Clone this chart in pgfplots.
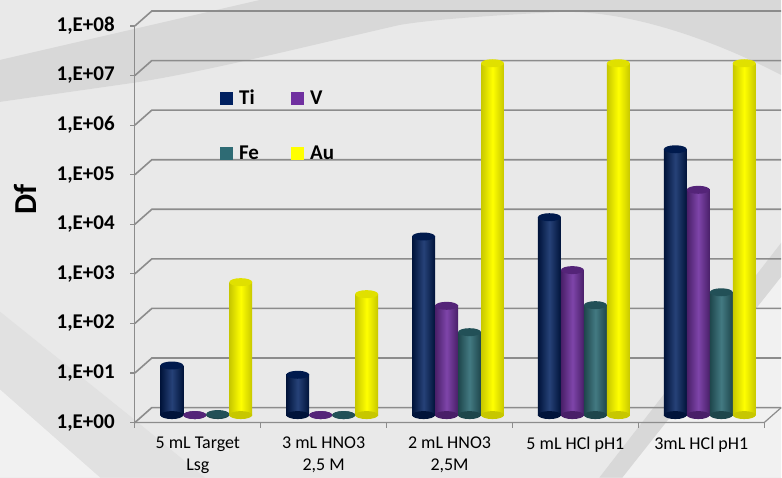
\documentclass[border=0pt]{standalone}
\usepackage{pgfplots}
\pgfplotsset{compat=1.18}
\usepackage{fontspec}
\setmainfont{Carlito}
\definecolor{tiC}{HTML}{002060}
\definecolor{vC}{HTML}{7030A0}
\definecolor{feC}{HTML}{2E6B74}
\definecolor{auC}{HTML}{FFFF00}
\colorlet{tiE}{tiC!60!black}\colorlet{tiM}{tiC!85!white}\colorlet{tiT}{tiC!80!black}
\colorlet{vE}{vC!65!black}\colorlet{vM}{vC!90!white}\colorlet{vT}{vC!75!black}
\colorlet{feE}{feC!65!black}\colorlet{feM}{feC!90!white}\colorlet{feT}{feC!75!black}
\colorlet{auE}{auC!78!black}\colorlet{auM}{auC}\colorlet{auT}{auC!88!black}
\definecolor{bgA}{HTML}{E9E9E9}
\definecolor{bgBand}{HTML}{D8D8D8}
\definecolor{bgBand2}{HTML}{E1E1E1}
\definecolor{bgLight}{HTML}{F1F1F1}
\definecolor{gridC}{HTML}{8C8C8C}
\pgfdeclareplotmark{cyltop}{%
  \pgfpathellipse{\pgfpointorigin}{\pgfqpoint{11.5pt}{0pt}}{\pgfqpoint{0pt}{4pt}}%
  \pgfusepathqfill}
% shift, colour prefix, x, y
\newcommand{\cyl}[4]{%
  \addplot[bar shift=#1, draw=none, fill=none, mark=cyltop,
    mark options={fill=#2E, draw=none, xshift=#1}] coordinates {(#3,1)};
  \addplot[bar shift=#1, draw=none, left color=#2E, right color=#2E, middle color=#2M,
    mark=cyltop, mark options={fill=#2T, draw=none, xshift=#1}] coordinates {(#3,#4)};}
\begin{document}
\begin{tikzpicture}
\begin{scope}[x=1pt,y=1pt]
\fill[bgA] (0,0) rectangle (782,478);
\useasboundingbox (0,0) rectangle (782,478);
\fill[bgBand] (0,418) -- (260,478) -- (782,478) -- (782,403)
  .. controls (700,445) and (620,468) .. (560,466)
  .. controls (480,462) and (430,458) .. (400,453)
  .. controls (300,430) and (200,405) .. (133,395)
  -- (0,376) -- cycle;
\fill[bgBand2] (0,166) -- (137,56) -- (205,0) -- (100,0) -- (0,88) -- cycle;
\fill[bgLight] (0,88) -- (100,0) -- (0,0) -- cycle;
\fill[bgLight] (782,201) -- (782,0) -- (623,0) -- cycle;
\fill[bgBand] (782,235) -- (782,201) -- (623,0) -- (600,0) -- cycle;
\end{scope}
\begin{axis}[
  at={(143.5pt,62.5pt)}, anchor=south west,
  scale only axis, width=630pt, height=397pt,
  ymode=log, ymin=1, ymax=1e8, log origin=0,
  xmin=-0.5, xmax=4.5,
  clip=false,
  axis line style={draw=none},
  tick style={draw=none},
  major tick length=0pt, minor tick length=0pt,
  xtick={0,1,2,3,4},
  xticklabels={{5 mL Target\\Lsg},{3 mL HNO3\\2,5 M},{2 mL HNO3\\2,5M},{5 mL HCl pH1},{3mL HCl pH1}},
  xticklabel style={align=center, font=\fontsize{18}{22}\selectfont, anchor=north, inner sep=0pt, xshift=-8.5pt, yshift=-22pt},
  ytick={1,10,100,1000,1e4,1e5,1e6,1e7,1e8},
  yticklabels={{1,E+00},{1,E+01},{1,E+02},{1,E+03},{1,E+04},{1,E+05},{1,E+06},{1,E+07},{1,E+08}},
  yticklabel style={font=\bfseries\fontsize{21}{21}\selectfont, anchor=east, inner sep=0pt, xshift=-28.5pt, yshift=-7.5pt},
  ylabel={Df},
  every axis y label/.style={at={(rel axis cs:0,0.5)}, rotate=90, anchor=center, xshift=17pt, yshift=118.5pt, font=\bfseries\fontsize{32}{32}\selectfont},
  ybar=0pt, bar width=23pt,
  legend image code/.code={\fill[#1] (0pt,-6pt) rectangle (12pt,6pt); \path[draw=none,fill=none] (12pt,0pt) -- (16pt,0pt);},
  legend columns=2,
  legend cell align=left,
  legend style={at={(rel axis cs:0.1222,0.826)}, anchor=north west, draw=none, fill=none, inner sep=0pt,
    font=\bfseries\fontsize{21}{21}\selectfont, row sep=34.5pt,
    nodes={inner sep=2.5pt},
    /tikz/every even column/.append style={column sep=30pt}},
]
\pgfplotsinvokeforeach{0,...,8}{
  \draw[gridC, line width=1.6pt] ([shift={(-8.5pt,-7.5pt)}]axis cs:-0.5,1e#1) -- ([shift={(8.5pt,7.5pt)}]axis cs:-0.5,1e#1) -- ([shift={(8.5pt,7.5pt)}]axis cs:4.5,1e#1);
  \draw[gridC, line width=1.2pt] ([shift={(-8.5pt,-7.5pt)}]axis cs:-0.5,1e#1) -- ++(-5pt,0pt);
}
\draw[gridC, line width=1.2pt] ([shift={(-8.5pt,-7.5pt)}]axis cs:-0.5,1) -- ([shift={(-8.5pt,-7.5pt)}]axis cs:4.5,1) -- ([shift={(8.5pt,7.5pt)}]axis cs:4.5,1);
\draw[gridC, line width=1.2pt] ([shift={(-8.5pt,-12.5pt)}]axis cs:-0.5,1) -- ([shift={(-8.5pt,-7.5pt)}]axis cs:-0.5,1e8);
\pgfplotsinvokeforeach{-0.5,0.5,1.5,2.5,3.5,4.5}{
  \draw[gridC, line width=1.2pt] ([shift={(-8.5pt,-7.5pt)}]axis cs:#1,1) -- ++(0pt,-5pt);
}
\addlegendimage{tiC}\addlegendentry{Ti}
\addlegendimage{vC}\addlegendentry{V}
\addlegendimage{feC}\addlegendentry{Fe}
\addlegendimage{auC}\addlegendentry{Au}
% Ti
\cyl{-34.5pt}{ti}{0}{10}
\cyl{-34.5pt}{ti}{1}{6.5}
\cyl{-34.5pt}{ti}{2}{4000}
\cyl{-34.5pt}{ti}{3}{9800}
\cyl{-34.5pt}{ti}{4}{2.3e5}
% V
\cyl{-11.5pt}{v}{0}{1}
\cyl{-11.5pt}{v}{1}{1}
\cyl{-11.5pt}{v}{2}{160}
\cyl{-11.5pt}{v}{3}{840}
\cyl{-11.5pt}{v}{4}{3.5e4}
% Fe
\cyl{11.5pt}{fe}{0}{1.05}
\cyl{11.5pt}{fe}{1}{1}
\cyl{11.5pt}{fe}{2}{47}
\cyl{11.5pt}{fe}{3}{165}
\cyl{11.5pt}{fe}{4}{300}
% Au
\cyl{34.5pt}{au}{0}{480}
\cyl{34.5pt}{au}{1}{275}
\cyl{34.5pt}{au}{2}{1.25e7}
\cyl{34.5pt}{au}{3}{1.25e7}
\cyl{34.5pt}{au}{4}{1.25e7}
\end{axis}
\end{tikzpicture}
\end{document}
